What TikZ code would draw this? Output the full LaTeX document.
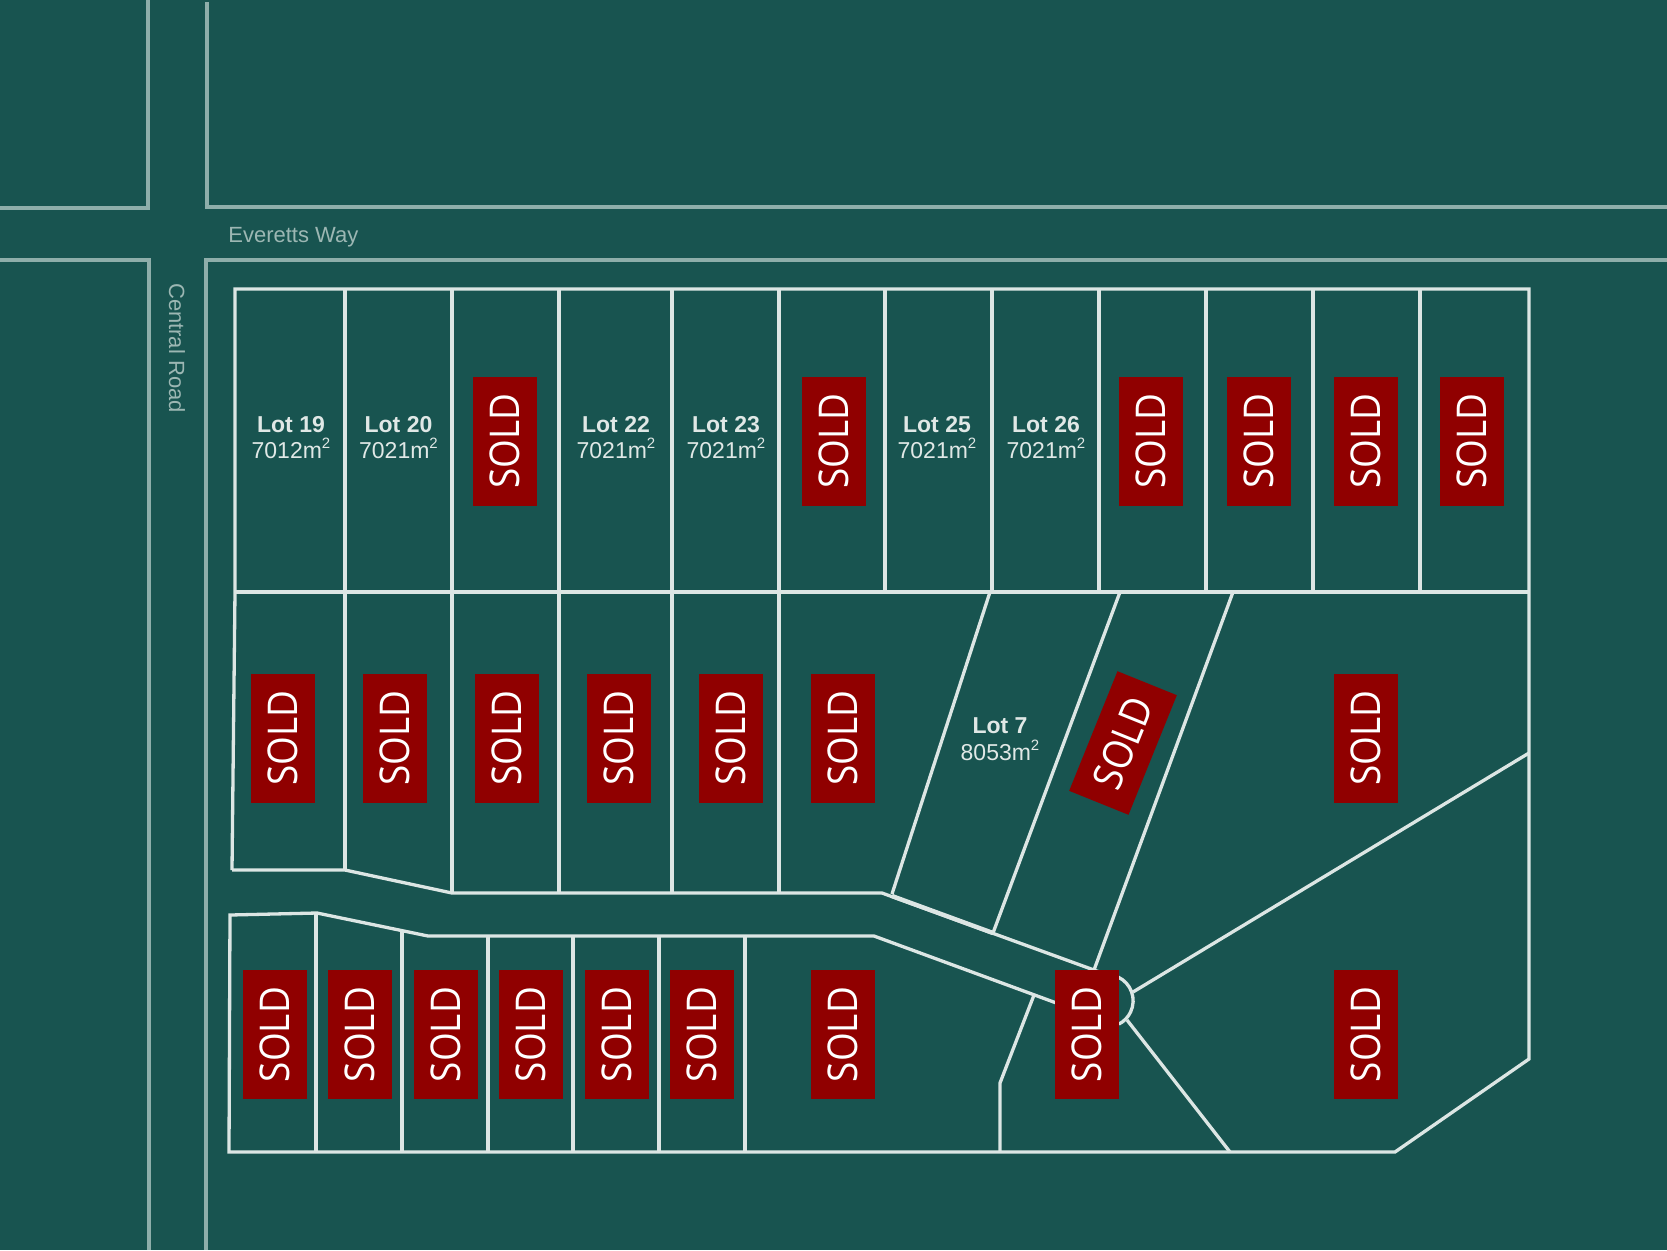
\documentclass[tikz,border=0pt]{standalone}
\usepackage{fontspec}
\setmainfont{Liberation Sans}
\newfontfamily\soldfont[FakeStretch=0.9]{Open Sans}
\definecolor{bg}{HTML}{185450}
\definecolor{roadc}{HTML}{8EAEAA}
\definecolor{lotc}{HTML}{DCE6E4}
\definecolor{soldc}{HTML}{900000}
\definecolor{labc}{HTML}{E0E8E6}
\definecolor{roadtxt}{HTML}{9CB7B3}
\newcommand{\sqm}{m\raisebox{0.42em}{\fontsize{7.5}{8}\selectfont 2}}
\tikzset{
  road/.style={draw=roadc, line width=1.7pt},
  lot/.style={draw=lotc, line width=1.65pt, line join=miter},
  lab/.style={text=labc, inner sep=0pt, font=\fontsize{11.5}{12}\selectfont},
  roadlab/.style={text=roadtxt, inner sep=0pt, font=\fontsize{11}{12}\selectfont},
  soldbox/.style={fill=soldc, text=white, inner sep=0pt, minimum width=64.5pt, minimum height=32pt,
    font=\soldfont\fontsize{20.5}{20}\selectfont, rotate=90},
}
\begin{document}
\begin{tikzpicture}[x=0.5pt,y=-0.5pt]
\fill[bg] (0,0) rectangle (1667,1250);
\useasboundingbox (0,0) rectangle (1667,1250);

% roads
\draw[road] (0,208) -- (148,208) -- (148,0);
\draw[road] (207,2) -- (207,207) -- (1667,207);
\draw[road] (0,260) -- (149,260) -- (149,1250);
\draw[road] (1667,260) -- (206,260) -- (206,1250);
\node[roadlab, anchor=base west] (ew) at (228,242) {Everetts Way};
\node[roadlab, rotate=-90] (cr) at (177,348) {Central Road};

% outer boundary
\draw[lot] (232,870) -- (235,592) -- (235,289) -- (1529,289) -- (1529,1059) -- (1395,1152) -- (229,1152) -- (230,915) -- (317,913) -- (428,936) -- (874,936) -- (1070,1008);
\draw[lot] (235,592) -- (1529,592);
\foreach \x in {345,452,559,672,779,885,992,1099,1206,1313,1420}
  \draw[lot] (\x,289) -- (\x,592);

% middle row
\draw[lot] (232,870) -- (345,870) -- (452,893) -- (882,893) -- (1116,978);
\draw[lot] (345,592) -- (345,870);
\foreach \x in {452,559,672,779}
  \draw[lot] (\x,592) -- (\x,893);
\draw[lot] (990,592) -- (892,894);
\draw[lot] (1120,592) -- (993,933);
\draw[lot] (1233,592) -- (1094,970);
\draw[draw=lotc, line width=2.2pt] (892,896) -- (993,933);

% cul-de-sac
\draw[lot] (1118,977) arc[start angle=65, end angle=-63, radius=13.1pt];
\draw[lot] (1133,992) -- (1529,753);
\draw[lot] (1127,1020) -- (1230,1152);

% bottom row
\draw[lot] (316,913) -- (316,1152);
\draw[lot] (402,931) -- (402,1152);
\foreach \x in {488,573,659,745}
  \draw[lot] (\x,936) -- (\x,1152);
\draw[lot] (1034,995) -- (1000,1083) -- (1000,1152);

% labels
\node[lab, anchor=base] (l19a) at (291,432) {\bfseries Lot 19};
\node[lab, anchor=base] (l19b) at (291,458) {7012\sqm};
\node[lab, anchor=base] (l20a) at (398.5,432) {\bfseries Lot 20};
\node[lab, anchor=base] (l20b) at (398.5,458) {7021\sqm};
\node[lab, anchor=base] (l22a) at (616,432) {\bfseries Lot 22};
\node[lab, anchor=base] (l22b) at (616,458) {7021\sqm};
\node[lab, anchor=base] (l23a) at (726,432) {\bfseries Lot 23};
\node[lab, anchor=base] (l23b) at (726,458) {7021\sqm};
\node[lab, anchor=base] (l25a) at (937,432) {\bfseries Lot 25};
\node[lab, anchor=base] (l25b) at (937,458) {7021\sqm};
\node[lab, anchor=base] (l26a) at (1046,432) {\bfseries Lot 26};
\node[lab, anchor=base] (l26b) at (1046,458) {7021\sqm};
\node[lab, anchor=base] (l7a) at (1000,733) {\bfseries Lot 7};
\node[lab, anchor=base] (l7b) at (1000,760) {8053\sqm};

% sold boxes
\foreach \x [count=\i] in {505,833.5,1151,1259,1366,1472}
  \node[soldbox] (st\i) at (\x,441) {SOLD};
\foreach \x [count=\i] in {283,395,507,618.5,730.5,842.5,1366}
  \node[soldbox] (sm\i) at (\x,738) {SOLD};
\node[soldbox, rotate=-22] (smt) at (1123,743) {SOLD};
\foreach \x [count=\i] in {275,360,445.5,531,616.5,702,842.5,1087,1366}
  \node[soldbox] (sb\i) at (\x,1034.5) {SOLD};
\end{tikzpicture}
\end{document}
